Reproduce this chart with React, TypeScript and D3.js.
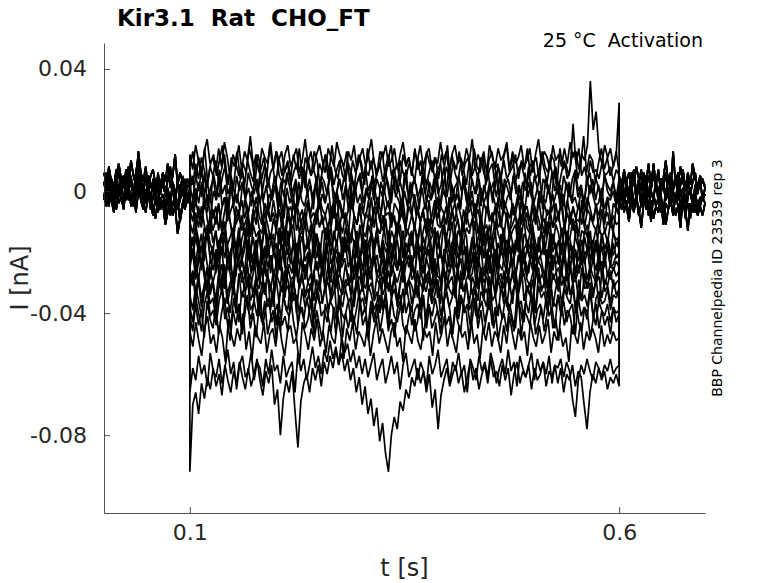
import React, { useEffect, useRef } from 'react';
import * as d3 from 'd3';

// current traces in pA, sampled evenly inside each protocol segment
const STEP_ON = 0.1;
const STEP_OFF = 0.6;
const T_END = 0.7;

const xTicks = [0.1, 0.6];
const yTicks = [0.04, 0, -0.04, -0.08];

// holding segment before the step (0 - 0.1 s)
const preSweeps: number[][] = [
  [3,-2,6,0,-4,2,7,-1,4,-3,1,5,-2,3,9,0,-1,5,2,-3,4,0,-5,2,6,-2,1,-4,3,0,-6,2,-1,4,-3,1],
  [-3,1,-5,2,-1,-6,0,4,-4,-1,3,-5,0,-2,5,-3,-6,-1,2,-4,-8,-2,1,-5,-3,-9,-1,-4,2,-7,-3,-10,-5,0,-4,-2],
  [6,2,8,3,-1,5,9,4,1,7,3,10,5,2,13,6,3,8,1,5,7,2,4,-1,6,3,9,1,5,12,2,6,3,0,4,2],
  [-1,-5,1,-3,-7,0,-4,-2,-6,2,-3,-1,-5,0,-2,4,-4,-7,-1,-3,-5,-9,-2,-6,-4,-11,-7,-3,-8,-5,-14,-9,-4,-6,-2,-3],
  [2,6,-1,4,1,7,-2,3,5,0,8,2,-1,6,11,4,2,-2,5,1,3,-3,6,0,2,-1,4,8,1,-4,3,0,5,-2,2,1],
  [-2,3,-4,1,-6,0,2,-3,-5,4,-1,-3,1,-7,0,3,-2,-4,0,-6,-2,2,-7,-3,-1,-5,0,-8,-4,-2,-6,-3,1,-5,-1,-2],
];

// test pulse (0.1 - 0.6 s), one row per sweep
const stepSweeps: number[][] = [
  [12,7,15,10,5,13,17,9,11,6,14,8,16,11,4,12,9,15,7,13,10,18,8,12,6,14,11,9,16,7,13,10,5,12,15,8,11,14,6,10,17,9,13,7,12,15,10,6,14,11,8,16,12,9,5,13,10,15,7,11,14,8,12,17,9,6,13,11,15,8,10,14,7,12,16,9,11,5,13,10,15,8,12,14,7,11,9,16,10,13,6,12,15,9,11,8,14,10,17,7,12,9,13,6,15,11,8,14,10,12,16,7,13,9,11,15,8,10,14,6,12,17,9,13,11,7,15,10,12,8,14,9,16,11,13,7,12,10,15,36,20,26,13,9,15,11,14,8,12,29],
  [8,13,4,11,6,14,3,9,12,5,10,15,7,2,11,8,13,4,9,6,14,10,3,12,7,11,5,15,8,2,10,13,6,9,4,12,7,14,3,11,8,5,13,10,1,9,12,6,15,7,4,11,8,13,3,10,6,12,9,2,14,7,11,5,8,13,4,10,15,6,9,3,12,8,11,5,14,7,10,2,13,9,6,11,4,12,8,15,3,10,7,13,5,9,11,4,14,8,6,12,2,10,13,7,9,3,11,15,6,8,12,4,10,7,14,5,9,11,3,13,8,6,12,10,2,14,7,9,5,11,13,4,8,18,6,12,10,3,9,14,7,11,5,8,13,6],
  [6,2,9,4,11,7,1,8,5,10,3,7,12,4,6,0,9,5,8,2,10,6,3,11,7,4,9,1,6,8,13,5,3,7,10,2,6,9,4,8,1,11,5,7,3,9,6,12,4,8,2,7,10,5,3,9,6,1,8,11,4,7,5,10,2,6,9,3,8,12,5,7,1,10,6,4,9,7,3,11,5,8,2,6,10,4,7,9,1,8,5,12,6,3,9,7,2,10,5,8,4,11,6,3,7,9,1,8,5,10,4,6,12,3,7,9,5,2,8,10,4,6,11,7,3,9,5,8,1,6,10,4,7,22,9,14,5,8,3,10,6,7,4,9,5,6,8,3,7,5],
  [2,-3,5,0,7,-1,3,-4,6,1,-2,4,8,-1,2,-5,5,0,3,-3,6,2,-1,4,-4,1,7,3,-2,5,0,-3,4,2,8,-1,3,-5,1,6,0,4,-2,2,-4,5,3,-1,7,1,-3,4,0,6,-2,3,-5,2,5,-1,8,0,3,-3,4,1,-2,6,2,-4,5,0,3,-1,7,-3,2,4,-2,1,6,-4,3,0,5,-1,2,8,-2,4,1,-3,5,0,3,-5,6,2,-1,4,-3,1,7,0,3,-2,5,-4,2,4,-1,6,1,-3,3,0,8,-2,5,1,-4,4,2,-1,6,0,3,-3,5,1,-2,4,7,0,2,-4,3,6,-1,4,1,-3,5,2,0,3,-2,4],
  [0,5,-4,3,-2,6,-5,1,4,-3,7,-1,2,-6,5,0,-4,3,6,-2,1,-5,4,-1,7,-3,2,-6,0,5,-4,3,-2,6,1,-5,4,-3,0,7,-1,2,-6,5,-2,3,-4,1,6,-5,0,4,-3,2,-7,5,-1,3,6,-4,1,-2,5,0,-6,3,-1,4,-3,7,-2,1,-5,6,0,-4,3,2,-6,5,-1,4,-3,0,6,-5,2,-2,7,-4,1,3,-6,5,0,-3,4,-1,6,-5,2,-2,3,-4,7,0,-6,4,1,-3,5,-1,2,-5,6,-2,3,-4,0,5,-6,4,1,-3,7,-1,2,-5,3,0,-4,6,-2,1,-6,5,-1,4,-3,2,-5,6,0,-2,3,-4,1],
  [-2,-7,1,-4,3,-6,-1,-9,0,-3,4,-5,-2,-8,2,-4,-1,-6,3,-3,-7,0,-5,-2,5,-4,-8,-1,-3,2,-6,-2,-9,1,-4,-1,-7,3,-3,-5,0,-8,-2,4,-6,-1,-4,2,-7,-3,0,-5,-9,1,-2,-6,3,-4,-1,-7,0,-3,5,-5,-2,-8,1,-4,-6,2,-1,-3,-7,0,-5,3,-2,-8,-4,1,-6,-1,-3,4,-5,-7,0,-2,-9,2,-4,-1,-6,3,-3,-5,0,-8,-2,1,-4,-7,2,-1,-5,-3,4,-6,-2,0,-8,-4,1,-3,-6,3,-1,-5,-9,0,-2,-4,2,-7,-3,1,-5,-1,-8,3,-4,-2,-6,0,-3,-7,2,-1,-5,-4,1,-6,-2,-3,0,-5,-1],
  [-6,-10,-3,-8,-12,-4,-7,-1,-9,-5,-13,-6,-2,-10,-7,-4,-11,-8,-3,-9,-5,-14,-6,-2,-8,-11,-4,-7,-10,-3,-9,-6,-12,-1,-7,-5,-10,-4,-8,-13,-6,-3,-9,-7,-11,-2,-6,-8,-4,-12,-5,-9,-3,-7,-10,-6,-1,-8,-11,-4,-7,-9,-3,-13,-6,-5,-10,-2,-8,-7,-12,-4,-6,-9,-3,-11,-5,-8,-1,-7,-10,-6,-4,-12,-8,-3,-9,-5,-7,-11,-2,-6,-10,-4,-8,-13,-5,-7,-3,-9,-6,-11,-4,-1,-8,-10,-5,-7,-12,-3,-6,-9,-4,-8,-2,-11,-7,-5,-10,-3,-6,-9,-13,-4,-8,-6,-1,-10,-7,-5,-12,-3,-8,-6,-9,-4,-11,-7,-2,-6,-10,-5,-8,-3,-9,-7,-12,-4,-6,-8],
  [-8,-3,-12,-5,-10,-1,-9,-14,-6,-11,-4,-13,-7,-2,-10,-15,-5,-9,-12,-3,-8,-13,-6,-11,-1,-9,-14,-4,-10,-7,-12,-2,-8,-15,-5,-11,-3,-13,-9,-6,-12,-4,-10,-14,-7,-2,-11,-8,-13,-5,-9,-1,-12,-6,-10,-15,-3,-8,-11,-4,-14,-7,-9,-2,-12,-5,-10,-13,-6,-3,-11,-8,-15,-4,-9,-12,-1,-7,-13,-5,-10,-6,-14,-3,-11,-8,-2,-12,-9,-5,-13,-7,-4,-10,-15,-6,-11,-3,-8,-12,-1,-9,-14,-5,-10,-7,-13,-2,-11,-6,-9,-15,-4,-8,-12,-3,-10,-7,-13,-5,-11,-2,-9,-14,-6,-8,-12,-4,-10,-1,-13,-7,-11,-5,-9,-15,-3,-12,-6,-8,-10,-4,-14,-7,-11,-2,-9,-13,-5,-8],
  [-10,-14,-7,-12,-5,-11,-16,-8,-13,-9,-4,-12,-15,-7,-10,-17,-9,-6,-13,-11,-8,-15,-10,-5,-12,-14,-7,-11,-16,-9,-13,-6,-10,-18,-8,-12,-11,-5,-14,-9,-7,-13,-15,-10,-6,-12,-8,-16,-11,-9,-4,-13,-10,-14,-7,-12,-17,-8,-11,-6,-13,-15,-9,-10,-5,-12,-14,-8,-11,-16,-7,-10,-13,-9,-6,-15,-12,-8,-11,-18,-10,-7,-13,-9,-14,-5,-11,-12,-8,-16,-10,-6,-13,-9,-15,-11,-7,-12,-10,-4,-14,-8,-13,-11,-17,-9,-6,-12,-10,-15,-7,-13,-11,-8,-16,-9,-5,-12,-14,-10,-7,-13,-11,-9,-15,-6,-12,-10,-8,-14,-11,-17,-7,-13,-9,-10,-5,-12,-15,-8,-11,-13,-9,-6,-14,-10,-12,-8,-11,-10],
  [-14,-18,-11,-16,-20,-12,-15,-9,-17,-13,-21,-14,-10,-18,-15,-12,-19,-16,-8,-14,-17,-22,-11,-15,-13,-19,-10,-16,-14,-20,-12,-17,-9,-15,-18,-13,-11,-21,-14,-16,-10,-19,-15,-12,-17,-23,-13,-14,-11,-18,-16,-9,-15,-20,-12,-17,-14,-10,-19,-13,-16,-21,-11,-15,-18,-12,-14,-8,-17,-19,-13,-16,-10,-15,-22,-12,-14,-18,-11,-16,-20,-13,-9,-17,-15,-12,-19,-14,-11,-18,-16,-10,-21,-13,-15,-17,-12,-14,-9,-19,-16,-11,-18,-13,-20,-15,-10,-14,-17,-12,-22,-16,-13,-11,-18,-15,-9,-19,-14,-12,-17,-20,-13,-16,-10,-15,-18,-11,-14,-21,-12,-17,-15,-9,-16,-19,-13,-14,-11,-18,-16,-20,-12,-15,-13,-17,-10,-14,-16,-15],
  [-16,-21,-12,-19,-14,-23,-11,-17,-20,-13,-22,-15,-10,-18,-24,-14,-19,-12,-21,-16,-9,-20,-15,-23,-13,-18,-11,-22,-17,-14,-25,-12,-19,-16,-21,-10,-18,-23,-15,-13,-20,-17,-11,-22,-14,-19,-24,-12,-16,-21,-13,-18,-10,-23,-15,-20,-14,-17,-22,-11,-19,-16,-24,-13,-18,-12,-21,-15,-9,-20,-17,-23,-14,-11,-19,-22,-16,-13,-21,-18,-10,-24,-15,-12,-20,-17,-14,-22,-11,-19,-16,-23,-13,-18,-21,-12,-15,-25,-17,-10,-20,-14,-22,-16,-11,-19,-13,-24,-18,-15,-21,-12,-17,-20,-9,-23,-14,-16,-19,-11,-22,-18,-13,-21,-15,-10,-20,-17,-24,-12,-19,-14,-16,-22,-11,-18,-21,-13,-15,-23,-17,-12,-20,-14,-19,-16,-22,-13,-18,-15],
  [-18,-22,-15,-20,-24,-16,-13,-21,-19,-25,-17,-14,-22,-18,-26,-15,-20,-23,-16,-12,-21,-19,-24,-17,-15,-22,-27,-18,-14,-20,-23,-16,-19,-25,-13,-21,-17,-22,-15,-26,-19,-16,-23,-20,-14,-18,-24,-21,-17,-12,-22,-19,-25,-15,-20,-18,-27,-16,-21,-23,-14,-19,-17,-24,-20,-15,-22,-18,-26,-13,-21,-19,-16,-23,-25,-17,-20,-14,-22,-18,-24,-15,-19,-21,-27,-16,-13,-20,-23,-18,-25,-17,-14,-22,-19,-16,-24,-21,-15,-26,-18,-20,-13,-23,-17,-22,-19,-25,-14,-21,-16,-18,-24,-20,-15,-27,-19,-17,-22,-13,-23,-18,-21,-16,-25,-20,-14,-19,-24,-17,-22,-15,-26,-18,-20,-23,-16,-21,-19,-13,-24,-17,-22,-18,-25,-15,-20,-21,-17,-19],
  [-20,-15,-24,-17,-26,-19,-13,-22,-18,-27,-16,-21,-14,-25,-20,-17,-28,-15,-23,-19,-12,-24,-21,-16,-26,-18,-22,-14,-27,-20,-17,-25,-13,-21,-19,-24,-16,-28,-18,-15,-23,-20,-26,-14,-22,-17,-25,-19,-12,-24,-21,-16,-27,-18,-20,-15,-23,-26,-13,-22,-19,-25,-17,-14,-24,-21,-28,-16,-20,-18,-23,-15,-26,-19,-13,-22,-17,-25,-20,-14,-27,-18,-21,-16,-24,-12,-23,-19,-26,-15,-20,-22,-17,-28,-14,-21,-18,-25,-16,-19,-24,-13,-22,-20,-27,-15,-23,-17,-21,-14,-26,-18,-25,-16,-20,-12,-24,-19,-22,-17,-28,-15,-21,-18,-23,-14,-26,-20,-16,-25,-19,-13,-22,-21,-27,-17,-24,-15,-20,-18,-23,-16,-26,-14,-21,-19,-25,-17,-22,-20],
  [-23,-19,-27,-21,-25,-17,-24,-29,-20,-22,-26,-18,-28,-23,-21,-30,-19,-25,-22,-27,-16,-24,-26,-20,-29,-23,-18,-25,-21,-28,-24,-19,-26,-31,-22,-20,-27,-17,-24,-23,-29,-21,-25,-18,-26,-22,-28,-20,-24,-30,-19,-23,-27,-21,-17,-25,-22,-29,-24,-20,-26,-18,-28,-23,-21,-27,-25,-19,-30,-22,-24,-16,-26,-23,-28,-20,-25,-21,-29,-18,-24,-27,-22,-19,-26,-31,-23,-20,-25,-28,-21,-17,-24,-26,-22,-29,-19,-27,-23,-20,-25,-18,-28,-24,-21,-30,-22,-26,-19,-23,-27,-25,-17,-29,-21,-24,-20,-28,-22,-26,-18,-23,-25,-30,-19,-27,-21,-24,-22,-28,-20,-26,-17,-23,-29,-25,-21,-24,-19,-27,-22,-26,-20,-28,-23,-18,-25,-24,-21,-22],
  [-25,-20,-29,-23,-18,-27,-31,-22,-26,-19,-28,-24,-32,-21,-25,-30,-17,-26,-23,-29,-20,-27,-22,-31,-24,-19,-28,-25,-21,-33,-23,-26,-18,-29,-24,-27,-20,-30,-22,-25,-28,-19,-31,-23,-26,-21,-29,-17,-27,-24,-32,-20,-25,-22,-28,-30,-19,-26,-23,-31,-21,-24,-29,-18,-27,-25,-22,-33,-20,-28,-23,-26,-19,-30,-24,-21,-29,-27,-18,-25,-31,-22,-26,-20,-28,-23,-32,-19,-25,-27,-21,-30,-24,-17,-29,-22,-26,-20,-31,-23,-28,-25,-19,-27,-21,-33,-24,-26,-18,-29,-22,-30,-25,-20,-28,-23,-27,-19,-31,-24,-21,-26,-29,-17,-25,-22,-32,-27,-20,-28,-23,-30,-19,-26,-24,-21,-29,-25,-18,-31,-22,-27,-20,-28,-24,-26,-23,-25],
  [-27,-31,-24,-29,-22,-28,-33,-25,-30,-26,-21,-29,-32,-24,-27,-34,-26,-23,-30,-28,-25,-32,-27,-22,-29,-31,-24,-28,-33,-26,-30,-23,-27,-35,-25,-29,-28,-22,-31,-26,-24,-30,-32,-27,-23,-29,-25,-33,-28,-26,-21,-30,-27,-31,-24,-29,-34,-25,-28,-23,-30,-32,-26,-27,-22,-29,-31,-25,-28,-33,-24,-27,-30,-26,-23,-32,-29,-25,-28,-35,-27,-24,-30,-26,-31,-22,-28,-29,-25,-33,-27,-23,-30,-26,-32,-28,-24,-29,-27,-21,-31,-25,-30,-28,-34,-26,-23,-29,-27,-32,-24,-30,-28,-25,-33,-26,-22,-29,-31,-27,-24,-30,-28,-26,-32,-23,-29,-27,-25,-31,-28,-34,-24,-30,-26,-27,-22,-29,-32,-25,-28,-30,-26,-23,-31,-27,-29,-25,-28,-26],
  [-30,-26,-33,-28,-35,-31,-25,-32,-29,-36,-27,-31,-24,-34,-30,-28,-37,-29,-26,-33,-31,-27,-35,-30,-32,-25,-34,-28,-31,-38,-27,-30,-33,-26,-29,-35,-31,-24,-32,-28,-34,-30,-27,-36,-29,-33,-25,-31,-30,-35,-28,-26,-32,-34,-29,-31,-27,-37,-30,-28,-33,-25,-32,-30,-35,-27,-29,-34,-31,-26,-33,-28,-36,-30,-24,-32,-29,-31,-35,-27,-30,-33,-28,-26,-34,-31,-29,-37,-25,-32,-30,-28,-35,-27,-31,-33,-29,-26,-34,-30,-32,-28,-36,-24,-31,-29,-33,-27,-30,-35,-28,-32,-26,-31,-34,-29,-27,-33,-30,-38,-28,-25,-32,-31,-29,-35,-27,-30,-33,-26,-31,-28,-34,-30,-29,-36,-25,-32,-31,-27,-33,-30,-28,-35,-29,-31,-26,-32,-30,-29],
  [-32,-27,-36,-29,-38,-31,-25,-34,-30,-39,-28,-33,-26,-37,-32,-29,-40,-27,-35,-31,-24,-36,-33,-28,-38,-30,-34,-26,-39,-32,-29,-37,-25,-33,-31,-36,-28,-40,-30,-27,-35,-32,-38,-26,-34,-29,-37,-31,-24,-36,-33,-28,-39,-30,-32,-27,-35,-38,-25,-34,-31,-37,-29,-26,-36,-33,-40,-28,-32,-30,-35,-27,-38,-31,-25,-34,-29,-37,-32,-26,-39,-30,-33,-28,-36,-24,-35,-31,-38,-27,-32,-34,-29,-40,-26,-33,-30,-37,-28,-31,-36,-25,-34,-32,-39,-27,-35,-29,-33,-26,-38,-30,-37,-28,-32,-24,-36,-31,-34,-29,-40,-27,-33,-30,-35,-26,-38,-32,-28,-37,-31,-25,-34,-33,-39,-29,-36,-27,-32,-30,-35,-28,-38,-26,-33,-31,-37,-29,-34,-32],
  [-34,-39,-31,-36,-41,-33,-30,-37,-35,-42,-32,-29,-38,-34,-40,-31,-36,-43,-33,-35,-28,-39,-37,-32,-41,-34,-30,-38,-36,-33,-44,-35,-31,-37,-39,-29,-36,-34,-40,-32,-38,-35,-30,-42,-33,-37,-36,-31,-39,-34,-28,-41,-35,-38,-32,-36,-43,-33,-30,-37,-35,-40,-31,-34,-39,-36,-29,-38,-33,-42,-35,-32,-37,-34,-40,-30,-36,-39,-33,-31,-38,-35,-44,-32,-37,-34,-29,-41,-36,-33,-38,-35,-31,-40,-34,-37,-30,-39,-36,-32,-42,-33,-35,-38,-28,-36,-34,-41,-31,-37,-35,-39,-33,-30,-38,-36,-43,-32,-34,-37,-40,-31,-35,-33,-39,-29,-36,-38,-34,-41,-32,-35,-37,-30,-40,-33,-36,-34,-38,-31,-42,-35,-33,-37,-36,-32,-39,-34,-35,-33],
  [-38,-43,-35,-40,-46,-37,-33,-41,-39,-44,-36,-32,-42,-38,-45,-35,-40,-37,-47,-34,-39,-42,-36,-41,-33,-44,-38,-35,-43,-40,-37,-46,-34,-39,-41,-36,-32,-44,-38,-42,-35,-40,-45,-37,-33,-41,-39,-43,-36,-38,-47,-34,-40,-42,-37,-35,-44,-39,-33,-41,-38,-45,-36,-40,-42,-34,-39,-37,-46,-35,-41,-43,-38,-32,-40,-36,-44,-39,-37,-42,-34,-45,-38,-41,-35,-40,-43,-36,-33,-39,-47,-38,-42,-35,-40,-37,-44,-34,-41,-39,-36,-43,-38,-32,-45,-40,-37,-42,-35,-39,-41,-46,-34,-38,-43,-36,-40,-33,-44,-39,-37,-42,-35,-41,-38,-45,-34,-40,-36,-43,-39,-37,-47,-35,-41,-38,-42,-33,-40,-44,-36,-39,-41,-37,-43,-38,-40,-39],
  [-41,-46,-37,-44,-39,-48,-36,-42,-45,-38,-47,-40,-35,-43,-49,-39,-44,-37,-46,-41,-34,-45,-40,-48,-38,-43,-36,-47,-42,-39,-49,-37,-44,-41,-46,-35,-43,-48,-40,-38,-45,-42,-36,-47,-39,-44,-49,-37,-41,-46,-38,-43,-35,-48,-40,-45,-39,-42,-47,-36,-44,-41,-49,-38,-43,-37,-46,-40,-34,-45,-42,-48,-39,-36,-44,-47,-41,-38,-46,-43,-35,-49,-40,-37,-45,-42,-39,-47,-36,-44,-41,-48,-38,-43,-46,-37,-40,-49,-42,-35,-45,-39,-47,-41,-36,-44,-38,-49,-43,-40,-46,-37,-42,-45,-34,-48,-39,-41,-44,-36,-47,-43,-38,-46,-40,-35,-45,-42,-49,-37,-44,-39,-41,-47,-36,-43,-46,-38,-40,-48,-42,-37,-45,-39,-44,-41,-47,-38,-43,-40],
  [-46,-51,-43,-49,-54,-45,-41,-50,-47,-53,-44,-48,-56,-42,-47,-51,-45,-49,-40,-52,-46,-55,-44,-48,-50,-43,-53,-47,-45,-51,-41,-49,-54,-46,-44,-50,-48,-57,-43,-47,-52,-45,-49,-42,-51,-46,-53,-44,-48,-50,-41,-47,-55,-45,-49,-43,-52,-46,-48,-51,-44,-54,-47,-42,-50,-45,-49,-53,-46,-43,-51,-48,-56,-44,-47,-50,-42,-49,-52,-45,-48,-46,-54,-43,-50,-47,-41,-51,-45,-49,-53,-44,-48,-46,-52,-42,-50,-47,-55,-45,-49,-43,-51,-46,-48,-53,-44,-50,-41,-47,-52,-45,-49,-46,-54,-43,-48,-51,-44,-50,-47,-42,-53,-46,-49,-45,-51,-48,-56,-44,-47,-50,-43,-52,-46,-49,-45,-48,-53,-44,-51,-47,-50,-46,-49,-48],
  [-66,-58,-62,-54,-60,-57,-64,-53,-59,-61,-55,-63,-58,-52,-60,-56,-65,-57,-54,-61,-59,-53,-62,-56,-58,-64,-55,-60,-52,-59,-57,-63,-54,-61,-58,-56,-66,-53,-59,-55,-62,-57,-51,-58,-54,-60,-52,-56,-49,-55,-51,-57,-48,-53,-50,-56,-52,-58,-54,-60,-55,-61,-57,-53,-62,-58,-55,-63,-59,-54,-60,-56,-65,-57,-53,-61,-58,-55,-62,-56,-59,-64,-54,-60,-57,-52,-61,-58,-55,-63,-56,-59,-53,-60,-57,-66,-55,-58,-62,-54,-59,-56,-61,-53,-57,-63,-58,-55,-60,-52,-59,-56,-64,-54,-58,-61,-57,-53,-62,-55,-59,-56,-60,-54,-63,-57,-58,-55,-61,-56,-59,-68,-74,-62,-57,-60,-55,-59,-62,-56,-58,-61,-57,-59,-55,-60,-58,-57],
  [-92,-70,-66,-73,-63,-68,-61,-65,-58,-64,-60,-67,-57,-62,-66,-59,-63,-56,-61,-65,-58,-64,-60,-55,-62,-67,-59,-63,-57,-70,-65,-80,-68,-62,-66,-59,-72,-84,-69,-63,-60,-66,-58,-62,-57,-64,-56,-60,-54,-58,-52,-57,-53,-59,-55,-62,-58,-66,-61,-70,-64,-73,-68,-77,-71,-82,-76,-86,-92,-80,-74,-78,-69,-72,-65,-68,-61,-64,-58,-63,-59,-66,-60,-71,-65,-78,-67,-62,-58,-64,-60,-57,-63,-59,-66,-61,-56,-62,-58,-65,-60,-57,-63,-55,-61,-59,-64,-57,-62,-58,-67,-60,-56,-63,-59,-61,-57,-65,-58,-62,-60,-56,-64,-59,-61,-57,-63,-58,-66,-60,-62,-57,-64,-59,-61,-70,-78,-66,-60,-63,-58,-62,-59,-65,-61,-63,-60,-64],
];

// back at holding (0.6 - 0.7 s)
const postSweeps: number[][] = [
  [3,-2,6,0,-4,2,7,-1,4,-3,1,5,-2,3,8,0,-1,4,2,-3,5,0,13,2,6,-2,1,-4,3,0,-5,2,-1,4,-3,1],
  [-4,-1,-7,-3,-9,0,-5,-2,-8,-4,1,-6,-3,-10,-1,-5,-7,-2,-11,-4,-6,0,-3,-8,-5,-12,-2,-6,-4,-9,-1,-7,-3,-5,-8,-4],
  [5,1,7,3,-1,6,2,8,4,0,6,3,9,1,5,2,7,-1,4,10,3,6,1,5,2,8,3,0,6,2,9,4,1,5,3,2],
  [-2,-6,-1,-5,-10,-3,-7,-2,-6,-12,-4,-1,-8,-3,-9,-5,-2,-7,-4,-11,-6,-3,-8,-1,-5,-9,-2,-6,-13,-4,-7,-3,-8,-5,-2,-4],
  [1,4,-2,3,6,0,4,-3,2,7,-1,3,5,0,9,2,-2,4,1,6,-1,3,0,5,-3,2,7,1,4,-1,3,6,0,2,4,1],
  [-1,2,-4,0,-3,3,-6,-1,1,-5,-2,2,-7,0,-3,4,-4,-1,-8,1,-2,-5,0,-3,3,-6,-1,-9,-2,1,-4,0,-6,-2,-3,-1],
];

const W = 778;
const H = 583;
const margin = { top: 43, right: 73, bottom: 70, left: 104 };
const axisColor = '#262626';
const font = '"DejaVu Sans", sans-serif';

const segment = (vals: number[], t0: number, t1: number) =>
  vals.map((v, i) => [t0 + ((t1 - t0) * i) / (vals.length - 1), v / 1000] as [number, number]);

const sweeps = stepSweeps.map((step, k) => [
  ...segment(preSweeps[k % preSweeps.length], 0, STEP_ON),
  ...segment(step, STEP_ON, STEP_OFF),
  ...segment(postSweeps[k % postSweeps.length], STEP_OFF, T_END),
]);

const App: React.FC = () => {
  const xAxisRef = useRef<SVGGElement | null>(null);
  const yAxisRef = useRef<SVGGElement | null>(null);

  const x = d3.scaleLinear().domain([0, T_END]).range([margin.left, W - margin.right]);
  const y = d3.scaleLinear().domain([-0.1055, 0.0485]).range([H - margin.bottom, margin.top]);

  const line = d3
    .line<[number, number]>()
    .x(d => x(d[0]))
    .y(d => y(d[1]));

  useEffect(() => {
    if (xAxisRef.current) {
      const g = d3.select(xAxisRef.current);
      g.selectAll('*').remove();
      g.call(
        d3.axisBottom(x).tickValues(xTicks).tickSizeInner(-6).tickSizeOuter(0).tickPadding(11)
          .tickFormat(d => String(d))
      );
      g.select('.domain').attr('stroke', axisColor).attr('stroke-width', 0.8);
      g.selectAll('.tick line').attr('stroke', axisColor).attr('stroke-width', 0.8);
      g.selectAll('.tick text')
        .attr('fill', axisColor)
        .style('font-family', font)
        .style('font-size', '22px');
    }
    if (yAxisRef.current) {
      const g = d3.select(yAxisRef.current);
      g.selectAll('*').remove();
      g.call(
        d3.axisLeft(y).tickValues(yTicks).tickSizeInner(-6).tickSizeOuter(0).tickPadding(17)
          .tickFormat(d => (d === 0 ? '0' : String(d)))
      );
      g.select('.domain').attr('stroke', axisColor).attr('stroke-width', 0.8);
      g.selectAll('.tick line').attr('stroke', axisColor).attr('stroke-width', 0.8);
      g.selectAll('.tick text')
        .attr('fill', axisColor)
        .style('font-family', font)
        .style('font-size', '22px');
    }
  }, []);

  return (
    <svg
      width={W}
      height={H}
      style={{ position: 'absolute', left: 0, top: 0, background: '#fff' }}
      fontFamily={font}
    >
      <g>
        {sweeps.map((s, i) => (
          <path key={i} d={line(s) || ''} fill="none" stroke="#000" strokeWidth={1.7} strokeLinejoin="bevel" />
        ))}
      </g>
      <g ref={xAxisRef} transform={`translate(0,${H - margin.bottom})`} />
      <g ref={yAxisRef} transform={`translate(${margin.left},0)`} />

      <text x={117} y={26} fontSize={23} fontWeight="bold" fill="#000" xmlSpace="preserve">
        Kir3.1  Rat  CHO_FT
      </text>
      <text x={703} y={47} fontSize={19} textAnchor="end" fill="#000" xmlSpace="preserve">
        25 °C  Activation
      </text>
      <text
        transform={`translate(722,${(margin.top + H - margin.bottom) / 2}) rotate(-90)`}
        fontSize={14}
        textAnchor="middle"
        fill="#000"
      >
        BBP Channelpedia ID 23539 rep 3
      </text>
      <text
        x={(margin.left + W - margin.right) / 2}
        y={576}
        fontSize={24}
        textAnchor="middle"
        fill={axisColor}
      >
        t [s]
      </text>
      <text
        transform={`translate(28,${(margin.top + H - margin.bottom) / 2}) rotate(-90)`}
        fontSize={24}
        textAnchor="middle"
        fill={axisColor}
      >
        I [nA]
      </text>
    </svg>
  );
};

export default App;
